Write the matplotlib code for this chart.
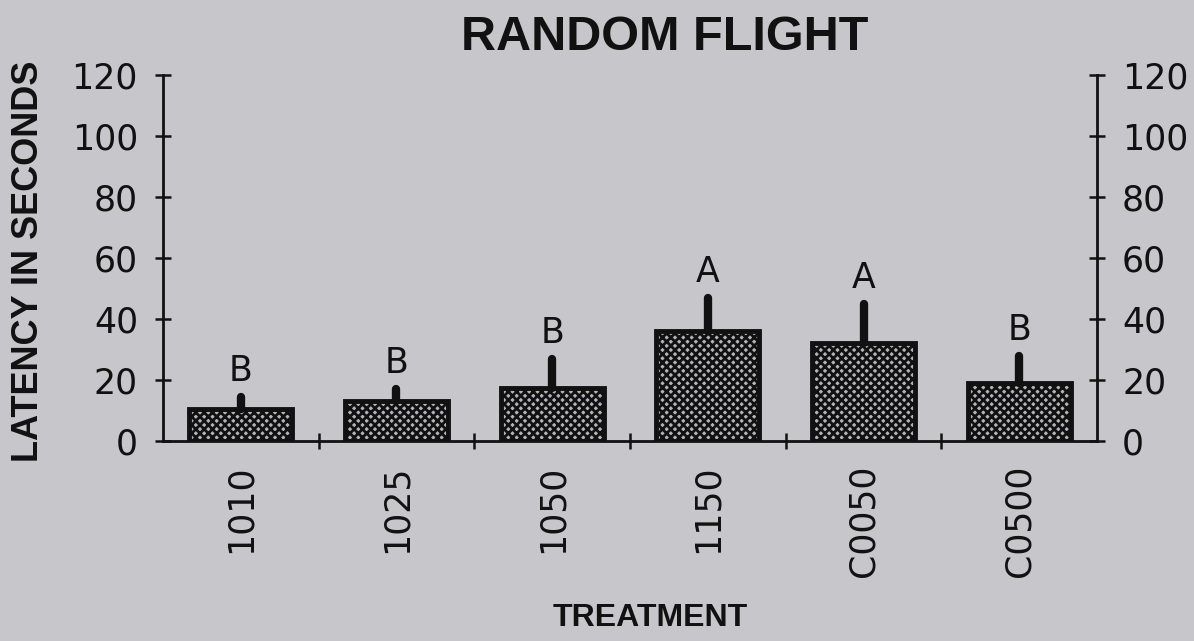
import matplotlib
matplotlib.use("Agg")
import matplotlib.pyplot as plt
import numpy as np

# Mean latency per treatment with the upper error (SE) and group letters
treatments = ["1010", "1025", "1050", "1150", "C0050", "C0500"]
latency = [10.5, 13, 17.5, 36, 32, 19]
error = [4, 4, 9.5, 11, 13, 9]
groups = ["B", "B", "B", "A", "A", "B"]
yticks = [0, 20, 40, 60, 80, 100, 120]

plt.rcParams["font.family"] = ["DejaVu Sans"]
plt.rcParams["hatch.linewidth"] = 2.0
bold_family = ["Liberation Sans", "DejaVu Sans"]

bg = "#c7c7cb"
ink = "#111111"
fig = plt.figure(figsize=(11.94, 6.41), dpi=100, facecolor=bg)
ax = fig.add_axes([0.1365, 0.312, 0.7823, 0.571], facecolor=bg)

x = np.arange(len(treatments))
width = 0.66

# dotted fill, then heavy outline
ax.bar(x, latency, width=width, color="#b4b4b8", edgecolor=ink,
       hatch="xxxx", linewidth=0, zorder=2)
ax.bar(x, latency, width=width, fill=False, edgecolor=ink,
       linewidth=3.5, zorder=3)

# upper error stems
top = np.array(latency) + np.array(error)
ax.vlines(x, latency, top, color=ink, linewidth=6,
          capstyle="round", zorder=4)

for xi, t, g in zip(x, top, groups):
    ax.text(xi, t + 8.5, g, ha="center", va="center", fontsize=25, color=ink)

ax.set_xlim(-0.5, len(treatments) - 0.5)
ax.set_ylim(0, 120)

ax.spines["top"].set_visible(False)
for side in ["left", "right", "bottom"]:
    ax.spines[side].set_linewidth(2)
    ax.spines[side].set_color(ink)

ax.set_yticks(yticks)
ax.tick_params(axis="y", which="both", direction="inout", length=12, width=1.8,
               labelsize=25, pad=12, left=True, right=True,
               labelleft=True, labelright=True, colors=ink)

ax.set_xticks(x)
ax.set_xticklabels(treatments, rotation=90, fontsize=25, color=ink)
ax.tick_params(axis="x", which="major", length=0, pad=17)
ax.set_xticks(np.arange(0.5, len(treatments) - 0.5, 1.0), minor=True)
ax.tick_params(axis="x", which="minor", direction="inout", length=12,
               width=1.8, color=ink)

fig.text(0.557, 0.942, "RANDOM FLIGHT", ha="center", va="center",
         fontsize=35, fontweight="bold", color=ink, family=bold_family)
fig.text(0.024, 0.592, "LATENCY IN SECONDS", ha="center", va="center",
         rotation=90, fontsize=26, fontweight="bold", color=ink,
         family=bold_family)
fig.text(0.545, 0.036, "TREATMENT", ha="center", va="center",
         fontsize=23, fontweight="bold", color=ink, family=bold_family)

fig.savefig("out.png", dpi=100, facecolor=bg)
